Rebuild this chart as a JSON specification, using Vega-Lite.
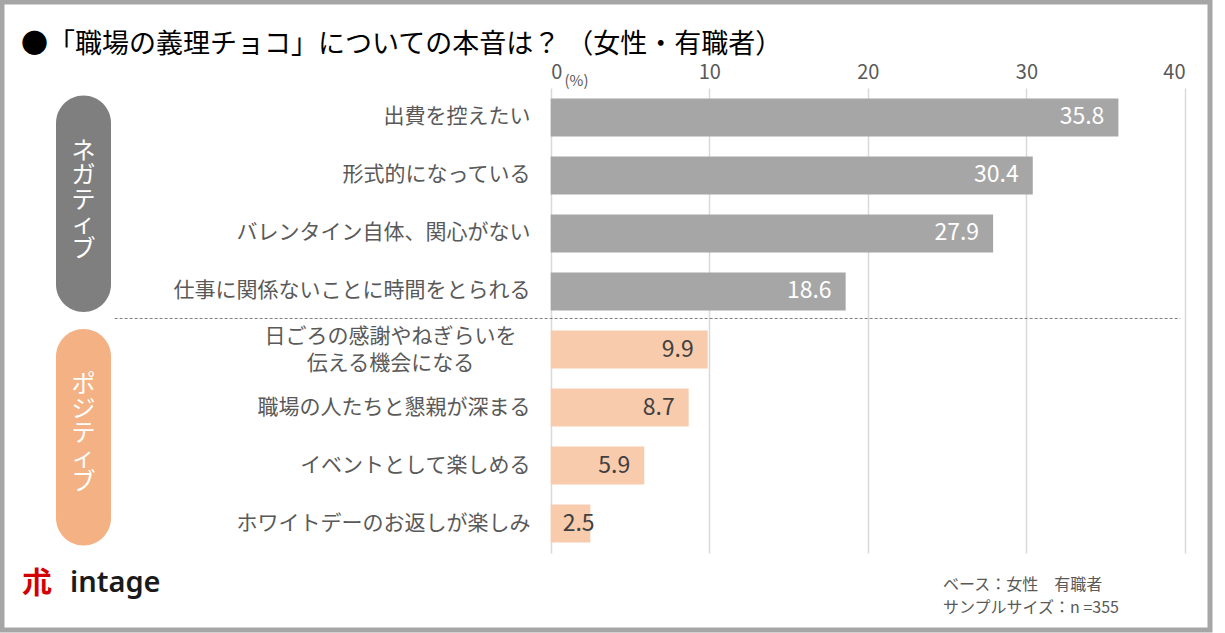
{
  "$schema": "https://vega.github.io/schema/vega-lite/v6.json",
  "autosize": {"type": "none"},
  "padding": {"left": 2, "top": 2, "right": 15, "bottom": 3},
  "width": 1208,
  "height": 628,
  "title": {
    "text": "●「職場の義理チョコ」についての本音は？ （女性・有職者）",
    "anchor": "start",
    "frame": "group",
    "dx": 19,
    "offset": -57,
    "fontSize": 27,
    "fontWeight": "normal",
    "color": "#000000"
  },
  "datasets": {
    "answers": [
      {"answer": "出費を控えたい", "group": "ネガティブ", "value": 35.8},
      {"answer": "形式的になっている", "group": "ネガティブ", "value": 30.4},
      {"answer": "バレンタイン自体、関心がない", "group": "ネガティブ", "value": 27.9},
      {"answer": "仕事に関係ないことに時間をとられる", "group": "ネガティブ", "value": 18.6},
      {"answer": "日ごろの感謝やねぎらいを\n伝える機会になる", "group": "ポジティブ", "value": 9.9},
      {"answer": "職場の人たちと懇親が深まる", "group": "ポジティブ", "value": 8.7},
      {"answer": "イベントとして楽しめる", "group": "ポジティブ", "value": 5.9},
      {"answer": "ホワイトデーのお返しが楽しみ", "group": "ポジティブ", "value": 2.5}
    ],
    "groups": [
      {"group": "ネガティブ", "label": "ネ\nガ\nテ\nィ\nブ"},
      {"group": "ポジティブ", "label": "ポ\nジ\nテ\nィ\nブ"}
    ],
    "notes": [
      {"line": 1, "text": "ベース：女性　有職者"},
      {"line": 2, "text": "サンプルサイズ：n =355"}
    ],
    "brand": [{"line": 1, "mark": "朮", "name": "intage"}]
  },
  "layer": [
    {
      "data": {"name": "answers"},
      "encoding": {
        "y": {
          "field": "answer",
          "type": "nominal",
          "sort": null,
          "scale": {"range": [86, 551], "paddingInner": 0.345, "paddingOuter": 0.18},
          "axis": {
            "orient": "left",
            "domain": false,
            "ticks": false,
            "grid": false,
            "title": null,
            "offset": -528,
            "labelFontSize": 21,
            "labelColor": "#595959",
            "labelLimit": 0,
            "labelLineHeight": 27,
            "labelBaseline": "middle",
            "labelExpr": "split(datum.label, '\\n')",
            "labelAlign": {"condition": {"test": "length(datum.value) > 19", "value": "center"}, "value": "right"},
            "labelPadding": {"condition": {"test": "length(datum.value) > 19", "value": 140}, "value": 0},
            "labelOffset": {"condition": {"test": "length(datum.value) > 19", "value": -13}, "value": 0}
          }
        },
        "x": {
          "field": "value",
          "type": "quantitative",
          "scale": {"domain": [0, 40], "range": [548.7, 1183], "nice": false},
          "axis": {
            "orient": "top",
            "values": [0, 10, 20, 30, 40],
            "domain": false,
            "ticks": false,
            "grid": true,
            "gridColor": "#d9d9d9",
            "gridWidth": 1.5,
            "offset": -82,
            "labelFontSize": 20,
            "labelColor": "#595959",
            "labelPadding": 2,
            "title": "(%)",
            "titleFontSize": 15,
            "titleFontWeight": "normal",
            "titleColor": "#595959",
            "titleAlign": "center",
            "titleBaseline": "middle",
            "titleX": 574,
            "titleY": -4
          }
        }
      },
      "layer": [
        {
          "mark": {"type": "bar"},
          "encoding": {
            "color": {"condition": {"test": "datum.group === 'ネガティブ'", "value": "#a6a6a6"}, "value": "#f8cbad"}
          }
        },
        {
          "transform": [{"filter": "datum.value >= 5"}],
          "mark": {"type": "text", "align": "right", "baseline": "middle", "dx": -14, "fontSize": 23},
          "encoding": {
            "text": {"field": "value", "type": "quantitative", "format": ".1f"},
            "color": {"condition": {"test": "datum.group === 'ネガティブ'", "value": "#ffffff"}, "value": "#404040"}
          }
        },
        {
          "transform": [{"filter": "datum.value < 5"}],
          "mark": {"type": "text", "align": "left", "baseline": "middle", "dx": 12, "fontSize": 23, "color": "#404040"},
          "encoding": {
            "x": {"datum": 0, "type": "quantitative"},
            "text": {"field": "value", "type": "quantitative", "format": ".1f"}
          }
        },
        {
          "transform": [{"filter": "datum.answer === '仕事に関係ないことに時間をとられる'"}],
          "mark": {"type": "rule", "strokeDash": [3, 2], "color": "#7f7f7f", "strokeWidth": 1},
          "encoding": {
            "y": {"field": "answer", "type": "nominal", "sort": null, "bandPosition": 1.21},
            "x": {"datum": -27.5, "type": "quantitative"},
            "x2": {"datum": 39.7}
          }
        }
      ]
    },
    {
      "data": {"name": "groups"},
      "encoding": {
        "y": {
          "field": "group",
          "type": "nominal",
          "sort": null,
          "scale": {"range": [86, 551], "paddingInner": 0.073, "paddingOuter": 0.032},
          "axis": null
        }
      },
      "layer": [
        {
          "mark": {"type": "bar", "cornerRadius": 27.5},
          "encoding": {
            "x": {"datum": 0, "type": "quantitative", "scale": {"domain": [0, 1], "range": [54, 109]}, "axis": null},
            "x2": {"datum": 1},
            "color": {"condition": {"test": "datum.group === 'ネガティブ'", "value": "#7f7f7f"}, "value": "#f4b183"}
          }
        },
        {
          "mark": {"type": "text", "fontSize": 24, "lineBreak": "\n", "lineHeight": 24.5, "color": "#ffffff", "baseline": "middle", "align": "center", "dy": -52},
          "encoding": {
            "x": {"datum": 0.5, "type": "quantitative", "scale": {"domain": [0, 1], "range": [54, 109]}, "axis": null},
            "text": {"field": "label"}
          }
        }
      ]
    },
    {
      "encoding": {
        "x": {"datum": 0, "type": "quantitative", "scale": {"domain": [0, 1], "range": [68, 941]}, "axis": null}
      },
      "layer": [
        {
          "data": {"name": "notes"},
          "mark": {"type": "text", "align": "left", "baseline": "middle", "fontSize": 16, "color": "#595959"},
          "encoding": {
            "x": {"datum": 1, "type": "quantitative"},
            "y": {"field": "line", "type": "quantitative", "scale": {"domain": [1, 2], "range": [583, 606]}, "axis": null},
            "text": {"field": "text"}
          }
        },
        {
          "data": {"name": "brand"},
          "mark": {"type": "text", "align": "left", "baseline": "middle", "dy": -2, "fontSize": 29, "fontWeight": 600, "font": "Noto Sans", "color": "#1a1a1a"},
          "encoding": {
            "y": {"field": "line", "type": "quantitative"},
            "text": {"field": "name"}
          }
        },
        {
          "data": {"name": "brand"},
          "mark": {"type": "text", "align": "right", "baseline": "middle", "dx": -18, "dy": -1, "fontSize": 30, "fontWeight": "bold", "color": "#d40000"},
          "encoding": {
            "y": {"field": "line", "type": "quantitative"},
            "text": {"field": "mark"}
          }
        }
      ]
    }
  ],
  "resolve": {
    "scale": {"x": "independent", "y": "independent"},
    "axis": {"x": "independent", "y": "independent"}
  },
  "config": {
    "font": "Noto Sans CJK JP",
    "view": {"stroke": "#a6a6a6", "strokeWidth": 5, "fill": "#ffffff"},
    "background": "#ffffff"
  }
}
